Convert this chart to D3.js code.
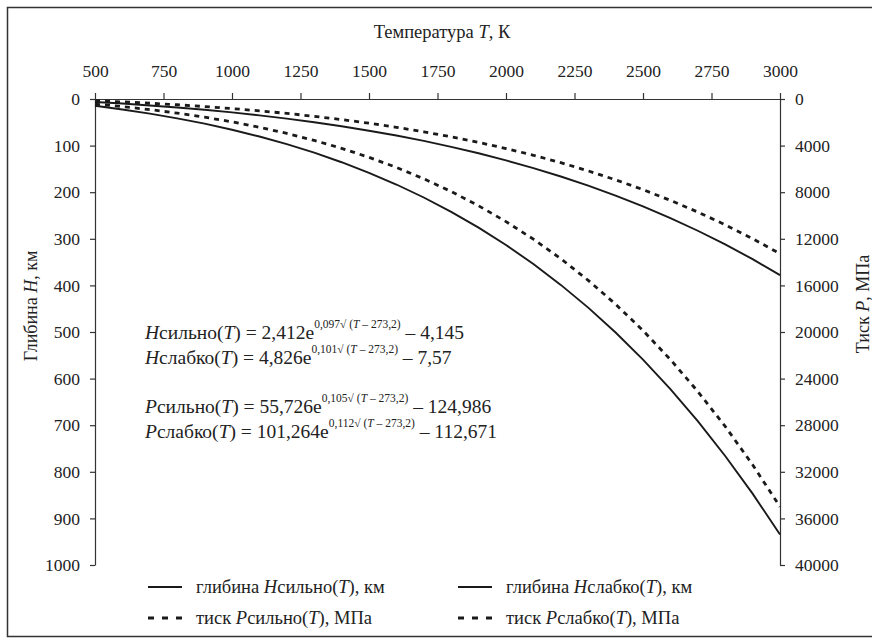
<!DOCTYPE html>
<html>
<head>
<meta charset="utf-8">
<script src="https://cdn.jsdelivr.net/npm/d3@7"></script>
<style>
  body { margin: 0; background: #fff; }
  text { font-family: "Liberation Serif", "Times New Roman", serif; fill: #222; }
</style>
</head>
<body>
<div id="chart"></div>
<script>
const w = 872,
    h = 641;

// temperature, K
const temps = [500, 600, 700, 800, 900, 1000, 1100, 1200, 1300, 1400, 1500, 1600, 1700,
    1800, 1900, 2000, 2100, 2200, 2300, 2400, 2500, 2600, 2700, 2800, 2900, 3000];
// depth, km
const hStrong = [6.3, 9.8, 13.8, 18.2, 23.2, 28.8, 35.1, 42.1, 49.9, 58.5, 68.0, 78.4, 90.0,
    102.6, 116.5, 131.7, 148.2, 166.3, 186.0, 207.3, 230.4, 255.5, 282.7, 312.1, 343.7, 378.0];
const hWeak = [14.5, 22.4, 31.3, 41.5, 52.9, 65.9, 80.5, 96.9, 115.2, 135.7, 158.4, 183.5, 211.4,
    242.2, 276.1, 313.3, 354.1, 398.9, 447.7, 501.1, 559.3, 622.6, 691.4, 766.0, 846.9, 934.5];
// pressure, MPa
const pStrong = [146, 247, 363, 495, 647, 820, 1016, 1237, 1487, 1766, 2079, 2428, 2816,
    3247, 3724, 4251, 4830, 5469, 6170, 6939, 7780, 8700, 9703, 10796, 11987, 13280];
const pWeak = [434, 654, 911, 1211, 1559, 1961, 2423, 2951, 3553, 4235, 5006, 5874, 6850,
    7942, 9163, 10522, 12033, 13708, 15564, 17614, 19876, 22364, 25103, 28103, 31394, 34996];

const tempTicks = [500, 750, 1000, 1250, 1500, 1750, 2000, 2250, 2500, 2750, 3000];
const depthTicks = [0, 100, 200, 300, 400, 500, 600, 700, 800, 900, 1000];
const pressTicks = [0, 4000, 8000, 12000, 16000, 20000, 24000, 28000, 32000, 36000, 40000];

const svg = d3.select("#chart")
    .append("svg")
    .attr("width", w)
    .attr("height", h);

// frame (right edge runs off the picture)
svg.append("rect")
    .attr("x", 7.5).attr("y", 7.5)
    .attr("width", 870).attr("height", 629)
    .attr("fill", "none")
    .attr("stroke", "#333")
    .attr("stroke-width", 1.5);

const xScale = d3.scaleLinear().domain([500, 3000]).range([95, 780]);
const yH = d3.scaleLinear().domain([0, 1000]).range([99, 565]);
const yP = d3.scaleLinear().domain([0, 40000]).range([99, 565]);

function styleAxis(g) {
    g.selectAll("path, line").attr("stroke", "#333").attr("stroke-width", 1.2);
    g.selectAll("text")
        .style("font-family", "'Liberation Serif', serif")
        .style("font-size", "17.5px")
        .attr("fill", "#222");
}

svg.append("g")
    .attr("transform", "translate(0,99)")
    .call(d3.axisTop(xScale).tickValues(tempTicks).tickSize(6).tickSizeOuter(0)
        .tickPadding(16).tickFormat(d3.format("d")))
    .call(styleAxis);

svg.append("g")
    .attr("transform", "translate(95,0)")
    .call(d3.axisLeft(yH).tickValues(depthTicks).tickSize(5).tickSizeOuter(0)
        .tickPadding(10).tickFormat(d3.format("d")))
    .call(styleAxis);

svg.append("g")
    .attr("transform", "translate(780,0)")
    .call(d3.axisRight(yP).tickValues(pressTicks).tickSize(5).tickSizeOuter(0)
        .tickPadding(10).tickFormat(d3.format("d")))
    .call(styleAxis);

// axis titles
const topTitle = svg.append("text")
    .attr("x", 442).attr("y", 38)
    .attr("text-anchor", "middle")
    .style("font-size", "18.5px");
topTitle.append("tspan").text("Температура ");
topTitle.append("tspan").style("font-style", "italic").text("T");
topTitle.append("tspan").text(", К");

const leftTitle = svg.append("text")
    .attr("transform", "translate(37,306) rotate(-90)")
    .attr("text-anchor", "middle")
    .style("font-size", "18px");
leftTitle.append("tspan").text("Глибина ");
leftTitle.append("tspan").style("font-style", "italic").text("H");
leftTitle.append("tspan").text(", км");

const rightTitle = svg.append("text")
    .attr("transform", "translate(869,304) rotate(-90)")
    .attr("text-anchor", "middle")
    .style("font-size", "18px");
rightTitle.append("tspan").text("Тиск ");
rightTitle.append("tspan").style("font-style", "italic").text("P");
rightTitle.append("tspan").text(", МПа");

// curves
const series = [
    { vals: hStrong, y: yH, dash: null },
    { vals: hWeak, y: yH, dash: null },
    { vals: pStrong, y: yP, dash: "5,5" },
    { vals: pWeak, y: yP, dash: "5,5" }
];

series.forEach(function (s) {
    const line = d3.line()
        .x(function (d, i) { return xScale(temps[i]); })
        .y(function (d) { return s.y(d); });
    svg.append("path")
        .datum(s.vals)
        .attr("d", line)
        .attr("fill", "none")
        .attr("stroke", "#1a1a1a")
        .attr("stroke-width", s.dash ? 2.8 : 1.9)
        .attr("stroke-dasharray", s.dash);
});

// formulas
const formulas = [
    { sym: "H", name: "сильно", coef: "2,412", k: "0,097", tail: " – 4,145", y: 339 },
    { sym: "H", name: "слабко", coef: "4,826", k: "0,101", tail: " – 7,57", y: 364 },
    { sym: "P", name: "сильно", coef: "55,726", k: "0,105", tail: " – 124,986", y: 413 },
    { sym: "P", name: "слабко", coef: "101,264", k: "0,112", tail: " – 112,671", y: 438 }
];

formulas.forEach(function (f) {
    const t = svg.append("text")
        .attr("x", 145).attr("y", f.y)
        .style("font-size", "19.5px");
    t.append("tspan").style("font-style", "italic").text(f.sym);
    t.append("tspan").text(f.name + "(");
    t.append("tspan").style("font-style", "italic").text("T");
    t.append("tspan").text(") = " + f.coef + "e");
    t.append("tspan").attr("dy", -11).style("font-size", "11.5px").text(f.k + "√ (");
    t.append("tspan").style("font-size", "11.5px").style("font-style", "italic").text("T");
    t.append("tspan").style("font-size", "11.5px").text(" – 273,2)");
    t.append("tspan").attr("dy", 11).text(f.tail);
});

// legend
const legendItems = [
    { pre: "глибина ", sym: "H", name: "сильно", unit: "), км", dash: null, x: 148, y: 587 },
    { pre: "глибина ", sym: "H", name: "слабко", unit: "), км", dash: null, x: 458, y: 587 },
    { pre: "тиск ", sym: "P", name: "сильно", unit: "), МПа", dash: "6,8", x: 148, y: 618 },
    { pre: "тиск ", sym: "P", name: "слабко", unit: "), МПа", dash: "6,8", x: 458, y: 618 }
];

legendItems.forEach(function (d) {
    svg.append("line")
        .attr("x1", d.x).attr("x2", d.x + 34)
        .attr("y1", d.y).attr("y2", d.y)
        .attr("stroke", "#1a1a1a")
        .attr("stroke-width", d.dash ? 3 : 2)
        .attr("stroke-dasharray", d.dash);
    const t = svg.append("text")
        .attr("x", d.x + 48).attr("y", d.y + 5.5)
        .style("font-size", "18.5px");
    t.append("tspan").text(d.pre);
    t.append("tspan").style("font-style", "italic").text(d.sym);
    t.append("tspan").text(d.name + "(");
    t.append("tspan").style("font-style", "italic").text("T");
    t.append("tspan").text(d.unit);
});
</script>
</body>
</html>
